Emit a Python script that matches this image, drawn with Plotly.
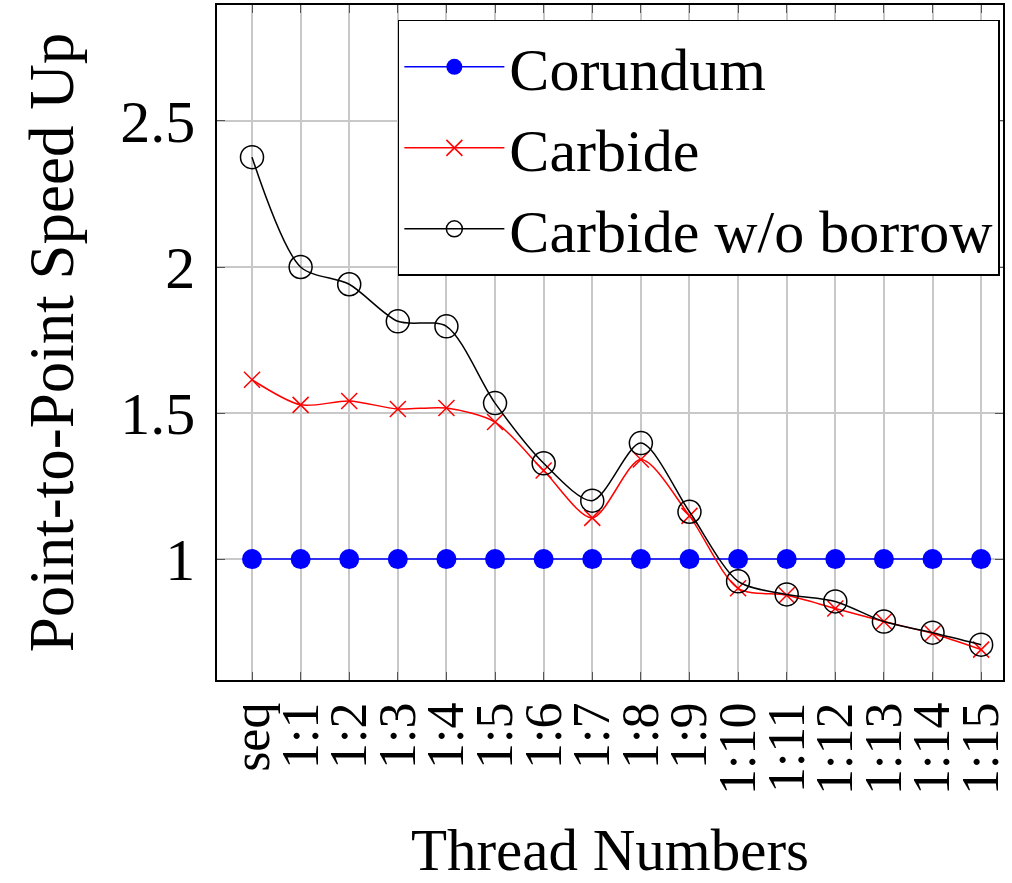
import plotly.graph_objects as go

threads = ["seq", "1:1", "1:2", "1:3", "1:4", "1:5", "1:6", "1:7", "1:8", "1:9",
           "1:10", "1:11", "1:12", "1:13", "1:14", "1:15"]
corundum = [1.0] * 16
carbide = [1.614, 1.528, 1.541, 1.514, 1.517, 1.469, 1.303, 1.141, 1.341, 1.148,
           0.900, 0.876, 0.831, 0.786, 0.745, 0.690]
carbide_no_borrow = [2.376, 2.000, 1.941, 1.814, 1.797, 1.534, 1.328, 1.200, 1.397, 1.162,
                     0.924, 0.879, 0.855, 0.786, 0.748, 0.707]
y_ticks = [1, 1.5, 2, 2.5]

FONT = "Liberation Serif"
xs = list(range(len(threads)))

fig = go.Figure()
fig.add_trace(go.Scatter(
    x=xs, y=corundum, name="Corundum", mode="lines+markers",
    line=dict(color="#0000ff", width=1.5),
    marker=dict(symbol="circle", size=20, color="#0000ff"),
))
fig.add_trace(go.Scatter(
    x=xs, y=carbide, name="Carbide", mode="lines+markers",
    line=dict(color="#ff0000", width=1.5, shape="spline", smoothing=0.8),
    marker=dict(symbol="x-thin-open", size=16, color="#ff0000",
                line=dict(color="#ff0000", width=1.5)),
))
fig.add_trace(go.Scatter(
    x=xs, y=carbide_no_borrow, name="Carbide w/o borrow", mode="lines+markers",
    line=dict(color="#000000", width=1.5, shape="spline", smoothing=0.8),
    marker=dict(symbol="circle-open", size=23, color="#000000",
                line=dict(color="#000000", width=1.5)),
))

fig.update_layout(
    width=1012, height=883,
    margin=dict(l=217, r=9, t=5, b=203),
    paper_bgcolor="white", plot_bgcolor="white",
    font=dict(family=FONT, color="black", size=58),
    showlegend=True,
    legend=dict(
        x=0.996, y=0.978, xanchor="right", yanchor="top",
        bgcolor="white", bordercolor="black", borderwidth=1.5,
        font=dict(family=FONT, size=60, color="black"),
        itemwidth=100, tracegroupgap=0,
        entrywidth=500, entrywidthmode="pixels",
    ),
    xaxis=dict(
        range=[-0.72, 15.45], automargin=False,
        tickmode="array", tickvals=xs, ticktext=threads,
        tickangle=-90, tickfont=dict(family=FONT, size=52),
        showgrid=True, gridcolor="#c8c8c8", gridwidth=1.5,
        showline=True, linecolor="black", linewidth=1.5, mirror="ticks",
        ticks="inside", ticklen=8, tickcolor="#555555",
        zeroline=False,
        title=dict(text="Thread Numbers", font=dict(family=FONT, size=59), standoff=40),
    ),
    yaxis=dict(
        range=[0.586, 2.897], automargin=False,
        tickmode="array", tickvals=y_ticks, ticktext=["1", "1.5", "2", "2.5"],
        tickfont=dict(family=FONT, size=60), ticklabelstandoff=8,
        showgrid=True, gridcolor="#c8c8c8", gridwidth=1.5,
        showline=True, linecolor="black", linewidth=1.5, mirror="ticks",
        ticks="inside", ticklen=8, tickcolor="#555555",
        zeroline=False,
        title=dict(text="Point-to-Point Speed Up", font=dict(family=FONT, size=63), standoff=26),
    ),
)

fig.write_html("out.html", config={"displayModeBar": False},
               post_script="document.body.style.margin='0';document.body.style.overflow='hidden';")
